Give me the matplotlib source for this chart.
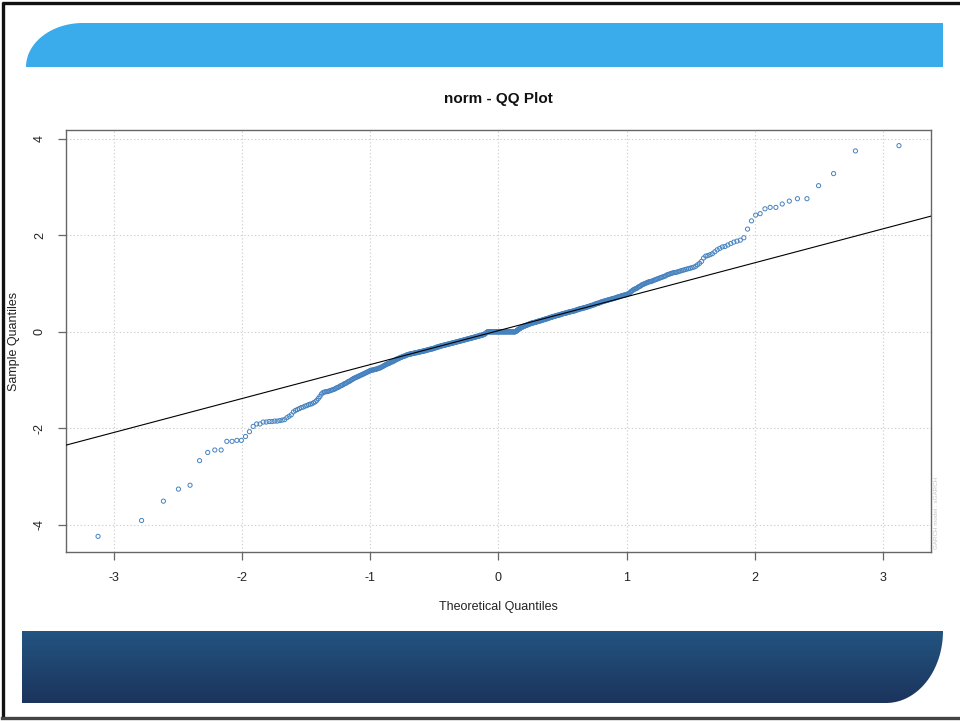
import numpy as np
import matplotlib
matplotlib.use("Agg")
import matplotlib.pyplot as plt
from matplotlib.path import Path
from matplotlib.patches import PathPatch
from statistics import NormalDist

plt.rcParams['font.family'] = ['Liberation Sans', 'DejaVu Sans']

# ---------------- data (sorted sample quantiles) ----------------
sample_quantiles = [
    -4.24, -3.91, -3.51, -3.26, -3.18, -2.67, -2.50, -2.45, -2.45, -2.27,
    -2.27, -2.25, -2.25, -2.17, -2.07, -1.96, -1.91, -1.91, -1.87, -1.87,
    -1.86, -1.86, -1.85, -1.85, -1.84, -1.83, -1.82, -1.78, -1.75, -1.72,
    -1.66, -1.63, -1.61, -1.59, -1.57, -1.56, -1.54,
    -1.53, -1.51, -1.50, -1.49, -1.47, -1.45, -1.42, -1.38,
    -1.34, -1.29, -1.26, -1.25, -1.24, -1.24, -1.23, -1.22, -1.21,
    -1.20, -1.19, -1.18, -1.16, -1.15, -1.14, -1.12, -1.11, -1.10, -1.08,
    -1.07, -1.06, -1.04, -1.03, -1.02, -1.00, -0.99, -0.97, -0.96, -0.95, -0.94,
    -0.93, -0.92, -0.91, -0.90, -0.89, -0.88, -0.87, -0.86, -0.85, -0.84, -0.83, -0.82, -0.81,
    -0.80, -0.80, -0.79, -0.79, -0.78, -0.78, -0.77, -0.77, -0.76, -0.75, -0.75, -0.74, -0.73, -0.72,
    -0.71, -0.70, -0.69, -0.68, -0.67, -0.66, -0.66, -0.65, -0.64, -0.63, -0.62, -0.62, -0.61, -0.60, -0.59, -0.58,
    -0.57, -0.56, -0.56, -0.55, -0.54, -0.53, -0.53, -0.52, -0.51, -0.51, -0.50, -0.50, -0.49, -0.48, -0.48, -0.47,
    -0.47, -0.46, -0.46, -0.46, -0.45, -0.45, -0.45, -0.44, -0.44, -0.44, -0.43, -0.43, -0.43, -0.42, -0.42, -0.42, -0.41, -0.41,
    -0.41, -0.40, -0.40, -0.40, -0.39, -0.39, -0.39, -0.38, -0.38, -0.37, -0.37, -0.37, -0.36, -0.36, -0.36, -0.35, -0.35, -0.35, -0.34,
    -0.34, -0.33, -0.33, -0.32, -0.32, -0.31, -0.31, -0.31, -0.30, -0.30, -0.29, -0.29, -0.29, -0.28, -0.28, -0.28, -0.27, -0.27, -0.27, -0.26,
    -0.26, -0.26, -0.25, -0.25, -0.25, -0.24, -0.24, -0.24, -0.23, -0.23, -0.23, -0.22, -0.22, -0.22, -0.21, -0.21, -0.21, -0.20, -0.20, -0.20, -0.19,
    -0.19, -0.19, -0.18, -0.18, -0.18, -0.17, -0.17, -0.17, -0.16, -0.16, -0.16, -0.15, -0.15, -0.15, -0.14, -0.14, -0.14, -0.13, -0.13, -0.13, -0.12, -0.12,
    -0.12, -0.11, -0.11, -0.11, -0.10, -0.10, -0.10, -0.09, -0.09, -0.09, -0.08, -0.08, -0.08, -0.07, -0.07, -0.07, -0.06, -0.06, -0.05, -0.05, -0.04,
    -0.03, -0.02, -0.01, 0.00, 0.00, 0.00, 0.00, 0.00, 0.00, 0.00, 0.00, 0.00, 0.00, 0.00, 0.00, 0.00, 0.00, 0.00, 0.00, 0.00, 0.00, 0.00, 0.00,
    0.00, 0.00, 0.00, 0.00, 0.00, 0.00, 0.00, 0.00, 0.00, 0.00, 0.00, 0.00, 0.00, 0.00, 0.00, 0.00, 0.00, 0.00, 0.00, 0.00, 0.00, 0.00,
    0.00, 0.00, 0.00, 0.00, 0.00, 0.00, 0.00, 0.01, 0.02, 0.03, 0.04, 0.05, 0.06, 0.06, 0.07, 0.08, 0.09, 0.09, 0.10, 0.11, 0.11, 0.12,
    0.12, 0.13, 0.13, 0.14, 0.14, 0.15, 0.15, 0.16, 0.16, 0.17, 0.17, 0.18, 0.18, 0.18, 0.19, 0.19, 0.19, 0.20, 0.20, 0.20, 0.21,
    0.21, 0.22, 0.22, 0.22, 0.23, 0.23, 0.23, 0.24, 0.24, 0.25, 0.25, 0.25, 0.26, 0.26, 0.27, 0.27, 0.27, 0.28, 0.28, 0.29, 0.29,
    0.30, 0.30, 0.30, 0.31, 0.31, 0.32, 0.32, 0.32, 0.33, 0.33, 0.34, 0.34, 0.34, 0.35, 0.35, 0.35, 0.36, 0.36, 0.37, 0.37,
    0.38, 0.38, 0.38, 0.39, 0.39, 0.39, 0.40, 0.40, 0.41, 0.41, 0.41, 0.42, 0.42, 0.42, 0.43, 0.43, 0.43, 0.44, 0.44,
    0.45, 0.45, 0.46, 0.46, 0.47, 0.47, 0.48, 0.48, 0.48, 0.49, 0.49, 0.50, 0.50, 0.50, 0.51, 0.51, 0.52, 0.52,
    0.53, 0.53, 0.54, 0.54, 0.55, 0.55, 0.56, 0.56, 0.57, 0.58, 0.58, 0.59, 0.59, 0.60, 0.60, 0.61,
    0.62, 0.62, 0.63, 0.63, 0.64, 0.64, 0.65, 0.65, 0.66, 0.66, 0.67, 0.67, 0.68, 0.68, 0.69, 0.69,
    0.70, 0.70, 0.71, 0.72, 0.72, 0.73, 0.73, 0.74, 0.75, 0.75, 0.76, 0.76, 0.77, 0.77,
    0.78, 0.79, 0.80, 0.82, 0.84, 0.85, 0.87, 0.88, 0.89, 0.90, 0.91, 0.93, 0.94,
    0.95, 0.97, 0.98, 0.99, 1.00, 1.01, 1.02, 1.03, 1.04, 1.04, 1.05,
    1.06, 1.07, 1.08, 1.09, 1.10, 1.11, 1.12, 1.13, 1.14, 1.15,
    1.16, 1.18, 1.19, 1.20, 1.21, 1.22, 1.23, 1.23, 1.24,
    1.25, 1.26, 1.27, 1.28, 1.29, 1.30, 1.31, 1.32,
    1.33, 1.34, 1.36, 1.39, 1.42, 1.46,
    1.53, 1.57, 1.58, 1.60, 1.62, 1.66, 1.70, 1.73, 1.76, 1.77,
    1.80, 1.83, 1.86, 1.88, 1.90, 1.95, 2.13, 2.30, 2.42, 2.45,
    2.55, 2.58, 2.58, 2.65, 2.71, 2.76, 2.76, 3.03, 3.28, 3.75, 3.86,
]
x_ticks = [-3, -2, -1, 0, 1, 2, 3]
y_ticks = [-4, -2, 0, 2, 4]
title_text = "norm - QQ Plot"
x_label = "Theoretical Quantiles"
y_label = "Sample Quantiles"
watermark = "GARCH model : sGARCH"

# ---------------- QQ computation (as R qqnorm / qqline) ----------------
y = np.sort(np.asarray(sample_quantiles, dtype=float))
n = len(y)
nd = NormalDist()
a = 3 / 8 if n <= 10 else 0.5
theo = np.array([nd.inv_cdf((i - a) / (n + 1 - 2 * a)) for i in range(1, n + 1)])
q1, q3 = np.percentile(y, [25, 75])
z1, z3 = nd.inv_cdf(0.25), nd.inv_cdf(0.75)
slope = (q3 - q1) / (z3 - z1)
intercept = q1 - slope * z1

W, H = 960, 721
fig = plt.figure(figsize=(W / 100, H / 100), dpi=100)
fig.patch.set_facecolor('white')

# ---------------- background decorations (pixel coords) ----------------
bg = fig.add_axes([0, 0, 1, 1], zorder=0)
bg.set_xlim(0, W)
bg.set_ylim(H, 0)
bg.axis('off')

# top banner with rounded upper-left corner
t = np.linspace(np.pi, np.pi / 2, 60)
cx, cy, rx, ry = 83, 67, 57, 44
top_pts = [(cx + rx * np.cos(tt), cy - ry * np.sin(tt)) for tt in t]
top_pts += [(943, 23), (943, 67), (26, 67)]
top_path = Path(top_pts + [top_pts[0]], [Path.MOVETO] + [Path.LINETO] * (len(top_pts) - 1) + [Path.CLOSEPOLY])
bg.add_patch(PathPatch(top_path, facecolor='#3aabeb', edgecolor='none'))

# bottom banner with rounded lower-right corner and vertical gradient
t2 = np.linspace(0, -np.pi / 2, 60)
cx2, cy2, rx2, ry2 = 886, 631, 57, 72
bot_pts = [(22, 631), (943, 631)]
bot_pts += [(cx2 + rx2 * np.cos(tt), cy2 - ry2 * np.sin(tt)) for tt in t2]
bot_pts += [(22, 703)]
bot_path = Path(bot_pts + [bot_pts[0]], [Path.MOVETO] + [Path.LINETO] * (len(bot_pts) - 1) + [Path.CLOSEPOLY])
bot_patch = PathPatch(bot_path, facecolor='none', edgecolor='none')
bg.add_patch(bot_patch)
c_top = np.array([35, 84, 129]) / 255
c_bot = np.array([27, 52, 92]) / 255
grad = np.linspace(0, 1, 100)[:, None, None]
img = c_top[None, None, :] * (1 - grad) + c_bot[None, None, :] * grad
im = bg.imshow(img, extent=[22, 943, 703, 631], aspect='auto', interpolation='bilinear')
im.set_clip_path(bot_patch)
bg.set_xlim(0, W)
bg.set_ylim(H, 0)

# outer frame
frame_kw = dict(color='#111111', lw=2.4, solid_capstyle='butt')
bg.plot([3, 3], [2, 719], **frame_kw)
bg.plot([2, 962], [3, 3], **frame_kw)
bg.plot([2, 962], [718, 718], color='#444444', lw=2.4)

# ---------------- main QQ plot ----------------
L, R, T, B = 66, 931, 130, 552
ax = fig.add_axes([L / W, 1 - B / H, (R - L) / W, (B - T) / H], zorder=1)
ax.set_facecolor('white')

ax.scatter(theo, y, s=9, facecolors='none', edgecolors='#4582bf', linewidths=0.7, zorder=3)
ax.axline((0, intercept), slope=slope, color='black', lw=0.8, zorder=4)

xr = theo.max() - theo.min()
yr = y.max() - y.min()
ax.set_xlim(theo.min() - 0.04 * xr, theo.max() + 0.04 * xr)
ax.set_ylim(y.min() - 0.04 * yr, y.max() + 0.04 * yr)

ax.set_xticks(x_ticks)
ax.set_yticks(y_ticks)
ax.set_xticklabels([str(v) for v in x_ticks])
ax.set_yticklabels([str(v) for v in y_ticks])
for lab in ax.get_yticklabels():
    lab.set_rotation(90)
    lab.set_va('center')
ax.tick_params(direction='out', length=5.5, width=0.9, color='#666666',
               labelsize=9, labelcolor='#222222', pad=9)
ax.grid(True, color='#d0d0d0', linestyle=(0, (1.2, 2)), lw=0.8, zorder=0)
for sp in ax.spines.values():
    sp.set_color('#666666')
    sp.set_linewidth(1.0)

fig.text(498 / W, 1 - 99 / H, title_text, ha='center', va='center',
         fontsize=11, fontweight='bold', color='#111111')
fig.text(498 / W, 1 - 607 / H, x_label, ha='center', va='center',
         fontsize=9, color='#222222')
fig.text(14 / W, 1 - 341 / H, y_label, ha='center', va='center',
         rotation=90, fontsize=9, color='#222222')
fig.text(937 / W, 1 - 513 / H, watermark, ha='center', va='center',
         rotation=90, fontsize=4.5, color='#c4c4c4')

fig.savefig('out.png', dpi=100)
